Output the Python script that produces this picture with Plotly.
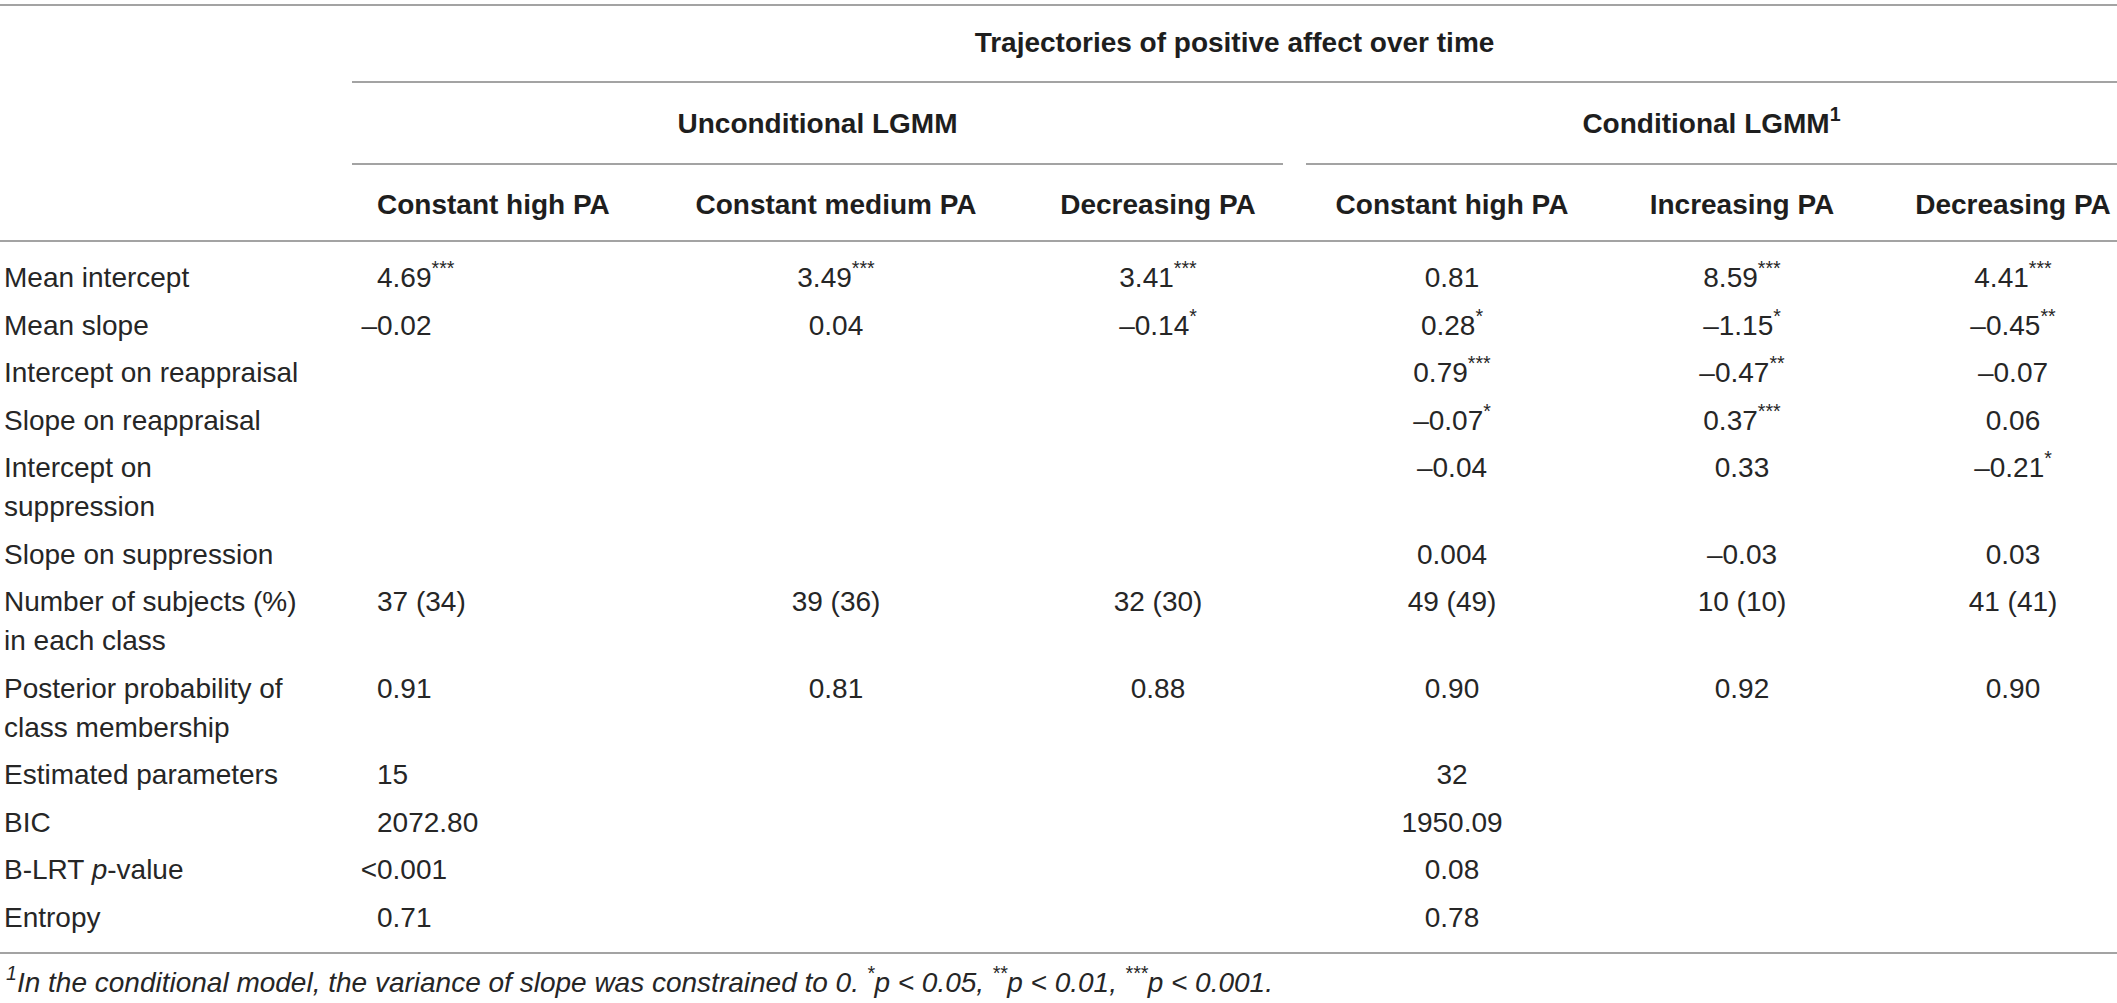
import plotly.graph_objects as go

# ---------------- data ----------------
TITLE = "Trajectories of positive affect over time"
GROUPS = ["Unconditional LGMM", "Conditional LGMM<sup>1</sup>"]
COLUMN_HEADERS = ["Constant high PA", "Constant medium PA", "Decreasing PA",
                  "Constant high PA", "Increasing PA", "Decreasing PA"]
ROW_LABELS = ["Mean intercept", "Mean slope", "Intercept on reappraisal",
              "Slope on reappraisal", "Intercept on\nsuppression",
              "Slope on suppression", "Number of subjects (%)\nin each class",
              "Posterior probability of\nclass membership", "Estimated parameters",
              "BIC", "B-LRT <i>p</i>-value", "Entropy"]
UNC_HIGH = ["4.69***", "\u20130.02", "", "", "", "", "37 (34)", "0.91",
            "15", "2072.80", "<0.001", "0.71"]
UNC_MEDIUM = ["3.49***", "0.04", "", "", "", "", "39 (36)", "0.81",
              "", "", "", ""]
UNC_DECR = ["3.41***", "\u20130.14*", "", "", "", "", "32 (30)", "0.88",
            "", "", "", ""]
CON_HIGH = ["0.81", "0.28*", "0.79***", "\u20130.07*", "\u20130.04", "0.004",
            "49 (49)", "0.90", "32", "1950.09", "0.08", "0.78"]
CON_INCR = ["8.59***", "\u20131.15*", "\u20130.47**", "0.37***", "0.33",
            "\u20130.03", "10 (10)", "0.92", "", "", "", ""]
CON_DECR = ["4.41***", "\u20130.45**", "\u20130.07", "0.06", "\u20130.21*",
            "0.03", "41 (41)", "0.90", "", "", "", ""]
FOOTNOTE = ("<sup>1</sup>In the conditional model, the variance of slope was "
            "constrained to 0. <sup>*</sup>p < 0.05, <sup>**</sup>p < 0.01, "
            "<sup>***</sup>p < 0.001.")

# ---------------- layout / style constants ----------------
W, H = 2117, 1003
FONT = "Liberation Sans, Arial, Helvetica, sans-serif"
TXT = "#262626"
HEAD = "#1e1e1e"
RULE = "#a3a3a3"
FS = 28
SHIFT = 3               # text vertical nudge
LABEL_X = 4
COL1_LEFT = 377
COL_CENTERS = [836, 1158, 1452, 1742, 2013]   # columns 2..6
FIRST_ROW_Y = 277
ROW_PITCH = 47.5
WRAP_EXTRA = 39
TITLE_Y, GROUP_Y, HEADER_Y = 42, 123, 204
RULE_TOP, RULE_TITLE, RULE_GROUP, RULE_HEAD, RULE_BOTTOM = 5, 82, 164, 241, 953
TITLE_SPAN = (352, W)
GROUP_SPANS = [(352, 1283), (1306, W)]
FOOT_X, FOOT_Y = 6, 982


def fmt(s):
    base = s.rstrip("*")
    stars = s[len(base):]
    return base + ("<sup>" + stars + "</sup>" if stars else "")


# row positions
row_y = []
extra = 0
for lab in ROW_LABELS:
    row_y.append(FIRST_ROW_Y + ROW_PITCH * len(row_y) + WRAP_EXTRA * extra)
    extra += lab.count("\n")

fig = go.Figure()


def add_text(xs, ys, texts, pos, color=TXT, size=FS, weight="normal", style="normal"):
    fig.add_trace(go.Scatter(
        x=xs, y=[y + SHIFT for y in ys], text=texts, mode="text",
        textposition=pos,
        textfont=dict(family=FONT, size=size, color=color, weight=weight, style=style),
        hoverinfo="skip", showlegend=False, cliponaxis=False))


# row labels (split wrapped lines)
lx, ly, lt = [], [], []
for lab, y in zip(ROW_LABELS, row_y):
    for k, part in enumerate(lab.split("\n")):
        lx.append(LABEL_X)
        ly.append(y + k * WRAP_EXTRA)
        lt.append(part)
add_text(lx, ly, lt, "middle right")

# column 1: left aligned, with hanging sign characters
mx, my, mt, px, py, pt = [], [], [], [], [], []
for v, y in zip(UNC_HIGH, row_y):
    if not v:
        continue
    if v[0] in "\u2013<":
        px.append(COL1_LEFT); py.append(y); pt.append(v[0])
        v = v[1:]
    mx.append(COL1_LEFT); my.append(y); mt.append(fmt(v))
add_text(mx, my, mt, "middle right")
add_text(px, py, pt, "middle left")

# columns 2..6 centered
for col, cx in zip([UNC_MEDIUM, UNC_DECR, CON_HIGH, CON_INCR, CON_DECR], COL_CENTERS):
    xs, ys, ts = [], [], []
    for v, y in zip(col, row_y):
        if v:
            xs.append(cx); ys.append(y); ts.append(fmt(v))
    add_text(xs, ys, ts, "middle center")

# headers
add_text([COL1_LEFT], [HEADER_Y], [COLUMN_HEADERS[0]],
         "middle right", color=HEAD, weight="bold")
add_text(COL_CENTERS, [HEADER_Y] * 5, COLUMN_HEADERS[1:], "middle center",
         color=HEAD, weight="bold")
add_text([(a + b) / 2 for a, b in GROUP_SPANS], [GROUP_Y] * 2, GROUPS,
         "middle center", color=HEAD, weight="bold")
add_text([(TITLE_SPAN[0] + TITLE_SPAN[1]) / 2], [TITLE_Y], [TITLE],
         "middle center", color=HEAD, weight="bold")

# footnote
add_text([FOOT_X], [FOOT_Y], [FOOTNOTE], "middle right", style="italic")

# rules
shapes = []
def rule(x0, x1, y):
    shapes.append(dict(type="line", xref="x", yref="y", x0=x0, x1=x1, y0=y, y1=y,
                       line=dict(color=RULE, width=2)))
rule(0, W, RULE_TOP)
rule(TITLE_SPAN[0], TITLE_SPAN[1], RULE_TITLE)
for a, b in GROUP_SPANS:
    rule(a, b, RULE_GROUP)
rule(0, W, RULE_HEAD)
rule(0, W, RULE_BOTTOM)

fig.update_layout(
    width=W, height=H, autosize=False,
    margin=dict(l=0, r=0, t=0, b=0, pad=0),
    paper_bgcolor="white", plot_bgcolor="white",
    xaxis=dict(range=[0, W], visible=False, fixedrange=True),
    yaxis=dict(range=[H, 0], visible=False, fixedrange=True),
    shapes=shapes, hovermode=False, showlegend=False,
)

fig.write_html("out.html", config={"displayModeBar": False},
               post_script="document.body.style.margin='0';document.body.style.overflow='hidden';")
